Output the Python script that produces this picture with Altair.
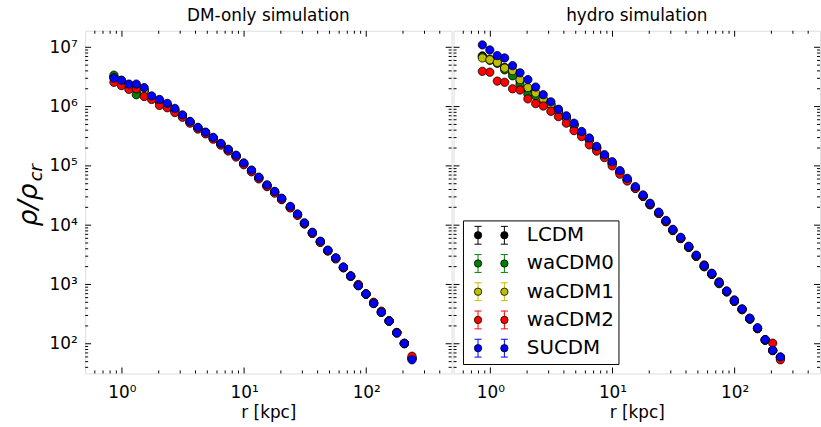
import altair as alt
import pandas as pd

# ---------------- data ----------------
r_kpc = [0.86, 0.99, 1.14, 1.31, 1.52, 1.75, 2.03, 2.35, 2.71, 3.13,
         3.61, 4.19, 4.84, 5.59, 6.46, 7.42, 8.6, 9.94, 11.5, 13.2,
         15.4, 17.8, 20.3, 23.9, 27.4, 31.2, 36.2, 42.1, 48.5, 56.3,
         65.0, 74.6, 86.1, 99.5, 115, 133, 154, 178, 205, 237]

models = ["LCDM", "waCDM0", "waCDM1", "waCDM2", "SUCDM"]
colors = ["#000000", "#008000", "#bfbf00", "#ff0000", "#0000ff"]

# log10(rho/rho_cr), DM-only simulation
dm_LCDM = [6.50, 6.43, 6.36, 6.35, 6.28, 6.16, 6.09, 6.03, 5.945, 5.845, 5.74, 5.64, 5.56, 5.47, 5.37, 5.27, 5.17, 5.04, 4.92, 4.80,
           4.67, 4.56, 4.445, 4.305, 4.18, 4.03, 3.87, 3.72, 3.57, 3.44, 3.29, 3.14, 2.985, 2.84, 2.685, 2.535, 2.385, 2.19, 2.01, 1.76]
dm_waCDM0 = [6.53, 6.44, 6.37, 6.20, 6.26, 6.15, 6.08, 6.02, 5.93, 5.84, 5.735, 5.635, 5.555, 5.465, 5.365, 5.265, 5.165, 5.035, 4.915, 4.795,
             4.665, 4.555, 4.44, 4.30, 4.175, 4.025, 3.87, 3.72, 3.57, 3.44, 3.285, 3.14, 2.985, 2.835, 2.685, 2.535, 2.385, 2.185, 2.005, 1.75]
dm_waCDM1 = [6.49, 6.425, 6.355, 6.34, 6.27, 6.155, 6.085, 6.025, 5.94, 5.84, 5.735, 5.635, 5.555, 5.465, 5.365, 5.265, 5.165, 5.035, 4.915, 4.795,
             4.665, 4.555, 4.44, 4.30, 4.175, 4.025, 3.865, 3.715, 3.57, 3.44, 3.285, 3.135, 2.98, 2.835, 2.68, 2.53, 2.38, 2.185, 2.005, 1.75]
dm_waCDM2 = [6.41, 6.355, 6.29, 6.30, 6.17, 6.12, 6.02, 5.98, 5.90, 5.82, 5.72, 5.62, 5.54, 5.45, 5.35, 5.25, 5.15, 5.02, 4.90, 4.78,
             4.65, 4.54, 4.43, 4.29, 4.165, 4.02, 3.86, 3.71, 3.565, 3.43, 3.28, 3.14, 3.00, 2.84, 2.70, 2.55, 2.39, 2.19, 2.00, 1.79]
dm_SUCDM = [6.48, 6.445, 6.38, 6.38, 6.32, 6.18, 6.12, 6.055, 5.97, 5.86, 5.75, 5.65, 5.57, 5.48, 5.38, 5.28, 5.18, 5.05, 4.93, 4.81,
            4.68, 4.57, 4.455, 4.317, 4.19, 4.04, 3.88, 3.73, 3.58, 3.45, 3.295, 3.145, 2.98, 2.84, 2.68, 2.53, 2.38, 2.18, 2.005, 1.73]

# log10(rho/rho_cr), hydro simulation
hy_LCDM = [6.855, 6.80, 6.74, 6.66, 6.58, 6.43, 6.29, 6.20, 6.11, 6.03, 5.92, 5.81, 5.69, 5.55, 5.44, 5.30, 5.165, 5.045, 4.895, 4.765,
           4.625, 4.485, 4.345, 4.20, 4.06, 3.91, 3.775, 3.625, 3.475, 3.30, 3.17, 3.015, 2.875, 2.715, 2.575, 2.415, 2.255, 2.06, 1.885, 1.765]
hy_waCDM0 = [6.84, 6.78, 6.73, 6.62, 6.52, 6.37, 6.21, 6.18, 6.10, 6.02, 5.915, 5.805, 5.685, 5.545, 5.435, 5.30, 5.165, 5.045, 4.895, 4.765,
             4.625, 4.485, 4.345, 4.20, 4.06, 3.91, 3.775, 3.625, 3.475, 3.30, 3.17, 3.015, 2.875, 2.715, 2.575, 2.415, 2.255, 2.06, 1.885, 1.765]
hy_waCDM1 = [6.82, 6.79, 6.745, 6.65, 6.605, 6.455, 6.32, 6.23, 6.13, 6.04, 5.925, 5.815, 5.695, 5.555, 5.445, 5.305, 5.17, 5.05, 4.90, 4.77,
             4.63, 4.49, 4.35, 4.205, 4.065, 3.915, 3.78, 3.63, 3.48, 3.305, 3.175, 3.02, 2.88, 2.72, 2.58, 2.42, 2.26, 2.065, 1.89, 1.77]
hy_waCDM2 = [6.595, 6.58, 6.43, 6.41, 6.30, 6.28, 6.13, 6.05, 6.01, 5.92, 5.83, 5.72, 5.595, 5.495, 5.355, 5.25, 5.14, 5.00, 4.86, 4.745,
             4.62, 4.495, 4.35, 4.20, 4.06, 3.92, 3.78, 3.635, 3.485, 3.33, 3.18, 3.045, 2.885, 2.74, 2.58, 2.43, 2.26, 2.07, 2.01, 1.73]
hy_SUCDM = [7.04, 6.955, 6.86, 6.82, 6.69, 6.57, 6.455, 6.33, 6.20, 6.08, 5.955, 5.845, 5.72, 5.58, 5.47, 5.33, 5.19, 5.07, 4.92, 4.79,
            4.65, 4.51, 4.37, 4.22, 4.08, 3.93, 3.795, 3.645, 3.495, 3.317, 3.19, 3.03, 2.89, 2.73, 2.59, 2.43, 2.27, 2.07, 1.89, 1.78]

dm_series = [dm_LCDM, dm_waCDM0, dm_waCDM1, dm_waCDM2, dm_SUCDM]
hy_series = [hy_LCDM, hy_waCDM0, hy_waCDM1, hy_waCDM2, hy_SUCDM]

x_major = [1, 10, 100]
x_minor = [0.6, 0.7, 0.8, 0.9, 2, 3, 4, 5, 6, 7, 8, 9,
           20, 30, 40, 50, 60, 70, 80, 90, 200, 300, 400]
y_major = [1e2, 1e3, 1e4, 1e5, 1e6, 1e7]
y_minor = [m * d for d in [10, 100, 1000, 10000, 100000, 1000000] for m in [2, 3, 4, 5, 6, 7, 8, 9]]
y_minor = [v for v in y_minor if v > 31.6]

# ---------------- layout constants ----------------
W, H = 370, 346
FONT = "DejaVu Sans"
MAJ, MIN = 6, 3

xscale = alt.Scale(type="log", domain=[0.5, 500], nice=False)
yscale = alt.Scale(type="log", domain=[31.6, 1.9e7], nice=False)
cscale = alt.Scale(domain=models, range=colors)

sup = "['⁰','¹','²','³','⁴','⁵','⁶','⁷','⁸'][round(log(datum.value)/LN10)]"

xaxis = alt.Axis(values=x_major, labelExpr="'10' + " + sup, ticks=False, tickSize=0,
                 domain=False, grid=False, labelFont=FONT, labelFontSize=17,
                 labelColor="black", labelPadding=19, labelBaseline="middle",
                 title="r [kpc]", titleFont=FONT,
                 titleFontSize=17, titleFontWeight="normal", titleColor="black",
                 titlePadding=5)


def build_df(series):
    rows = []
    for m, vals in zip(models, series):
        for r, lv in zip(r_kpc, vals):
            rows.append({"r": r, "rho": 10 ** lv, "model": m})
    return pd.DataFrame(rows)


def tick_layers():
    xt_maj = pd.DataFrame({"r": x_major})
    xt_min = pd.DataFrame({"r": x_minor})
    yt_maj = pd.DataFrame({"v": y_major})
    yt_min = pd.DataFrame({"v": y_minor})
    layers = []
    for df, L in [(xt_maj, MAJ), (xt_min, MIN)]:
        X = alt.X("r:Q", scale=xscale, axis=xaxis)
        layers.append(alt.Chart(df).mark_rule(color="black", strokeWidth=1).encode(
            x=X, y=alt.value(H), y2=alt.value(H - L)))
        layers.append(alt.Chart(df).mark_rule(color="black", strokeWidth=1).encode(
            x=X, y=alt.value(0), y2=alt.value(L)))
    for df, L in [(yt_maj, MAJ), (yt_min, MIN)]:
        Y = alt.Y("v:Q", scale=yscale, axis=None)
        layers.append(alt.Chart(df).mark_rule(color="black", strokeWidth=1).encode(
            y=Y, x=alt.value(0), x2=alt.value(L)))
        layers.append(alt.Chart(df).mark_rule(color="black", strokeWidth=1).encode(
            y=Y, x=alt.value(W), x2=alt.value(W - L)))
    return layers


def panel(series, title, left):
    df = build_df(series)
    if left:
        yaxis = alt.Axis(values=y_major, labelExpr="'10' + " + sup, ticks=False, tickSize=0,
                         domain=False, grid=False, labelFont=FONT, labelFontSize=17,
                         labelColor="black", labelPadding=8, title=None)
    else:
        yaxis = None
    pts = alt.Chart(df).mark_point(filled=True, shape="circle", size=70, stroke="black",
                                   strokeWidth=0.8, opacity=1).encode(
        x=alt.X("r:Q", scale=xscale, axis=xaxis),
        y=alt.Y("rho:Q", scale=yscale, axis=yaxis),
        fill=alt.Fill("model:N", scale=cscale, legend=None),
    )
    layers = [pts] + tick_layers()
    one = pd.DataFrame({"k": [0]})
    if left:
        layers.append(alt.Chart(one).mark_text(angle=270, align="center", baseline="middle",
                                               font=FONT, fontStyle="italic", fontSize=27).encode(
            x=alt.value(-57), y=alt.value(176), text=alt.value("ρ/ρ")))
        layers.append(alt.Chart(one).mark_text(angle=270, align="left", baseline="middle",
                                               font=FONT, fontStyle="italic", fontSize=18).encode(
            x=alt.value(-49), y=alt.value(152), text=alt.value("cr")))
    else:
        leg = pd.DataFrame({"model": models, "row": list(range(len(models)))})
        ly = alt.Y("row:Q", scale=alt.Scale(domain=[0, 4], range=[206.5, 320.5]), axis=None)
        layers.append(alt.Chart(one).mark_rect(fill="white", stroke="black", strokeWidth=1).encode(
            x=alt.value(10), x2=alt.value(167), y=alt.value(192), y2=alt.value(337)))
        ebar = "M0,-1L0,1M-0.4,-1L0.4,-1M-0.4,1L0.4,1"
        for xpos in [24.7, 51.3]:
            layers.append(alt.Chart(leg).mark_point(shape=ebar, filled=False, size=324,
                                                    strokeWidth=1, opacity=1).encode(
                x=alt.value(xpos), y=ly,
                stroke=alt.Stroke("model:N", scale=cscale, legend=None)))
            layers.append(alt.Chart(leg).mark_point(filled=True, shape="circle", size=55,
                                                    stroke="black", strokeWidth=0.8, opacity=1).encode(
                x=alt.value(xpos), y=ly,
                fill=alt.Fill("model:N", scale=cscale, legend=None)))
        layers.append(alt.Chart(leg).mark_text(align="left", baseline="middle", font=FONT,
                                               fontSize=20, color="black").encode(
            x=alt.value(74), y=ly, text="model:N"))
    return alt.layer(*layers).resolve_scale(y="independent").properties(
        width=W, height=H,
        title=alt.TitleParams(title, font=FONT, fontSize=17, fontWeight="normal",
                              color="black", offset=5, anchor="middle"))


chart = alt.hconcat(
    panel(dm_series, "DM-only simulation", True),
    panel(hy_series, "hydro simulation", False),
    spacing=0,
).properties(
    padding={"left": 14, "top": 5, "right": 0, "bottom": 0}
).configure_view(stroke="black", strokeWidth=1).configure(background="white")

chart.save("out.html", embed_options={"renderer": "svg", "actions": False})
